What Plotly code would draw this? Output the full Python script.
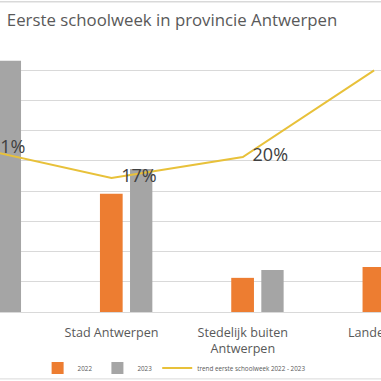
import plotly.graph_objects as go

categories = ["Totaal", "Stad Antwerpen", "Stedelijk buiten<br>Antwerpen", "Landelijk"]
values_2022 = [68.7, 39.1, 11.3, 14.9]
values_2023 = [83.1, 47.3, 13.9, 19.5]
trend = [0.210, 0.1725, 0.1995, 0.311]

FONT = "Open Sans"
TXT = "#595959"
GRID = "#D9D9D9"

fig = go.Figure()
fig.add_trace(go.Bar(
    x=categories, y=values_2022, name="2022",
    marker=dict(color="#ED7D31", line=dict(width=0)),
    offset=-0.088, width=0.173,
))
fig.add_trace(go.Bar(
    x=categories, y=values_2023, name="2023",
    marker=dict(color="#A5A5A5", line=dict(width=0)),
    offset=0.141, width=0.170,
))
fig.add_trace(go.Scatter(
    x=categories, y=trend, name="trend eerste schoolweek 2022 - 2023",
    yaxis="y2", mode="lines+markers+text",
    line=dict(color="#E8C13A", width=2),
    marker=dict(size=14, color="rgba(0,0,0,0)", line=dict(width=0)),
    texttemplate="%{y:.0%}", textposition="middle right",
    textfont=dict(family=FONT, size=18, color="#404040"),
    cliponaxis=True,
))

fig.update_layout(
    width=381, height=381,
    margin=dict(l=0, r=0, t=40, b=69, autoexpand=False),
    paper_bgcolor="white", plot_bgcolor="white",
    barmode="overlay",
    font=dict(family=FONT, color=TXT),
    title=dict(
        text="Eerste schoolweek in provincie Antwerpen",
        x=0.018, xanchor="left", xref="paper",
        y=0.948, yanchor="middle", yref="container",
        font=dict(family=FONT, size=16.8, color=TXT),
    ),
    xaxis=dict(
        type="category", range=[0.1508, 3.0525], automargin=False,
        showgrid=False, showline=False, zeroline=False,
        ticks="", tickfont=dict(family=FONT, size=12.6, color=TXT),
        ticklabelstandoff=11,
    ),
    yaxis=dict(
        range=[0, 90], dtick=10, showgrid=True, gridcolor=GRID, gridwidth=1,
        zeroline=True, zerolinecolor=GRID, zerolinewidth=1, automargin=False,
        showticklabels=False, ticks="",
    ),
    yaxis2=dict(
        range=[0, 0.35], overlaying="y", side="right", automargin=False,
        showgrid=False, zeroline=False, showticklabels=False, ticks="",
    ),
    showlegend=True,
    legend=dict(
        orientation="h", x=0.457, xanchor="center", y=-0.206, yanchor="middle",
        font=dict(family=FONT, size=6.3, color=TXT),
        itemwidth=30, tracegroupgap=0, bgcolor="rgba(0,0,0,0)",
    ),
    shapes=[
        dict(type="line", xref="paper", yref="paper", x0=0, x1=1, y0=1.141, y1=1.141,
             line=dict(color=GRID, width=1.5)),
        dict(type="line", xref="paper", yref="paper", x0=0, x1=1, y0=-0.246, y1=-0.246,
             line=dict(color=GRID, width=1)),
    ],
)

fig.write_html("out.html", config={"displayModeBar": False},
               post_script="document.body.style.margin='0';")
